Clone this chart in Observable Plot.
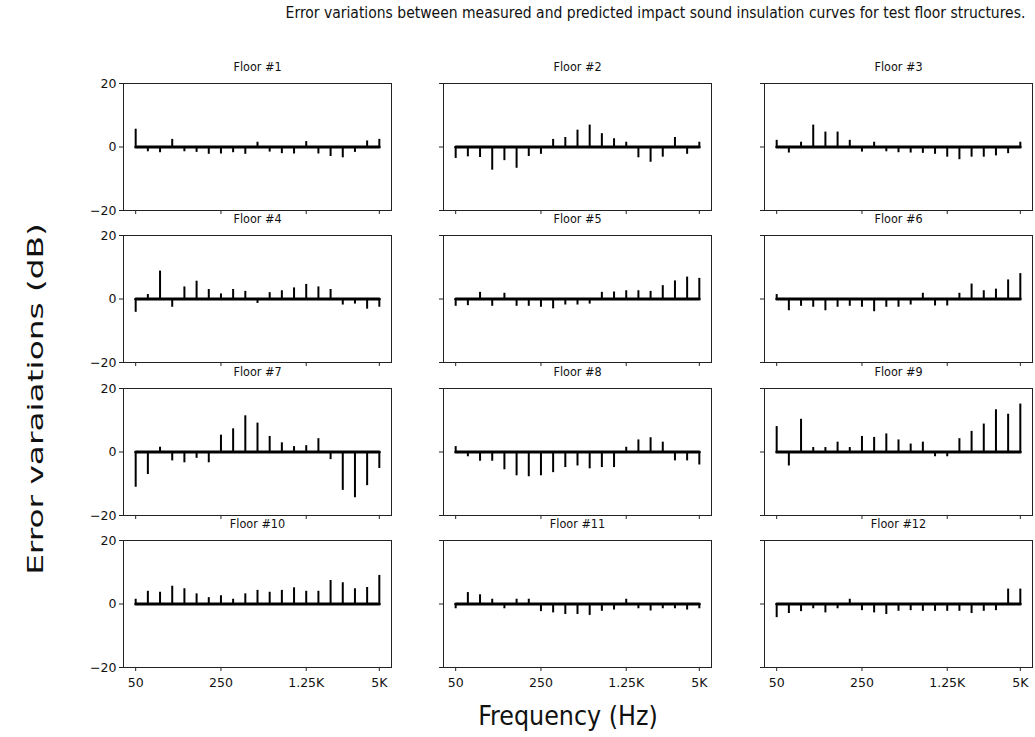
<!DOCTYPE html>
<html>
<head>
<meta charset="utf-8">
<script src="https://cdn.jsdelivr.net/npm/d3@7"></script>
<script src="https://cdn.jsdelivr.net/npm/@observablehq/plot@0.6"></script>
<style>
  body { margin: 0; background: white; }
  #fig { position: relative; width: 1035px; height: 737px; background: white; overflow: hidden; }
  .panel { position: absolute; }
  .cond { font-family: "DejaVu Sans Condensed", "Liberation Sans Narrow", "DejaVu Sans", sans-serif; font-stretch: condensed; }
  #title { position: absolute; left: 283px; top: 4px; width: 745px; text-align: center; font-size: 15.5px; color: #111; white-space: nowrap; }
  #xlabel { position: absolute; left: 418px; top: 700px; width: 300px; text-align: center; font-size: 26.5px; color: #111; white-space: nowrap; }
  #ylabel { position: absolute; left: 35px; top: 399px; font-family: "DejaVu Sans", sans-serif; font-size: 22px; color: #111; white-space: nowrap; transform: translate(-50%, -50%) rotate(-90deg) scaleX(1.49); }
</style>
</head>
<body>
<div id="fig">
  <div id="title" class="cond">Error variations between measured and predicted impact sound insulation curves for test floor structures.</div>
  <div id="xlabel" class="cond">Frequency (Hz)</div>
  <div id="ylabel">Error varaiations (dB)</div>
</div>
<script>
// 1/3-octave frequency bands
const bands = ["50","63","80","100","125","160","200","250","315","400","500","630","800","1K","1.25K","1.6K","2K","2.5K","3.15K","4K","5K"];
const tickBands = ["50","250","1.25K","5K"];
const yTicks = [-20, 0, 20];
const floorNames = ["Floor #1","Floor #2","Floor #3","Floor #4","Floor #5","Floor #6","Floor #7","Floor #8","Floor #9","Floor #10","Floor #11","Floor #12"];

// error (dB) per band
const floor1  = [5.6,-1.5,-1.8,2.4,-1.5,-1.7,-2.3,-2.2,-1.8,-2.3,1.5,-1.6,-2.1,-2.2,1.7,-2.2,-3.0,-3.4,-1.7,1.9,2.4];
const floor2  = [-3.6,-3.1,-3.3,-7.3,-4.3,-6.7,-3.0,-2.3,2.4,3.0,5.3,6.9,4.2,2.6,1.5,-3.4,-4.8,-3.2,3.0,-2.3,1.5];
const floor3  = [2.1,-1.9,1.5,6.9,4.7,4.7,2.1,-1.6,1.5,-1.5,-1.8,-1.9,-2.0,-2.3,-3.2,-4.0,-3.2,-3.2,-2.8,-2.1,1.5];
const floor4  = [-4.2,1.4,8.8,-2.6,3.8,5.6,3.0,1.6,3.0,2.4,-1.4,2.0,2.6,3.5,4.6,3.8,3.0,-1.9,-1.6,-3.2,-2.6];
const floor5  = [-2.3,-2.1,2.1,-2.3,1.8,-2.3,-2.3,-2.6,-3.1,-1.9,-1.9,-1.6,2.1,2.2,2.6,2.6,2.4,4.2,5.7,6.9,6.5];
const floor6  = [1.4,-3.7,-2.3,-2.6,-3.7,-2.6,-2.3,-2.6,-4.0,-2.6,-2.6,-1.9,1.8,-2.2,-2.2,1.8,4.7,2.6,3.1,6.0,8.0];
const floor7  = [-11.1,-7.1,1.5,-2.8,-3.4,-2.0,-3.4,5.3,7.3,11.4,9.1,4.9,2.9,1.7,2.0,4.2,-2.4,-12.1,-14.4,-10.6,-5.2];
const floor8  = [1.7,-1.5,-2.9,-2.9,-5.6,-7.5,-7.8,-7.5,-6.5,-4.9,-4.4,-5.3,-4.9,-4.9,1.5,3.8,4.5,3.1,-2.8,-2.8,-4.1];
const floor9  = [8.0,-4.4,10.3,1.4,1.4,3.1,1.4,4.9,4.6,5.7,3.8,2.5,3.1,-1.5,-1.5,4.2,6.5,8.8,13.3,11.9,15.1];
const floor10 = [1.5,4.0,3.7,5.6,4.8,3.2,2.0,2.6,1.5,3.2,4.3,3.7,4.3,5.1,4.0,4.0,7.4,6.7,4.8,5.2,9.0];
const floor11 = [-1.5,3.6,2.9,1.5,-1.5,1.5,1.5,-2.4,-2.8,-3.3,-3.3,-3.6,-2.3,-1.9,1.5,-1.5,-2.2,-1.5,-1.5,-1.9,-1.5];
const floor12 = [-4.3,-3.0,-2.4,-1.5,-2.8,-1.5,1.5,-2.1,-2.8,-3.3,-2.3,-2.1,-2.3,-2.3,-2.3,-2.3,-3.0,-2.3,-2.1,4.7,4.7];
const floors = [floor1,floor2,floor3,floor4,floor5,floor6,floor7,floor8,floor9,floor10,floor11,floor12];

// layout
const colLeft = [123, 443, 764];
const rowTop = [83, 235, 388, 540];
const frameW = 268, frameH = 127;
const mL = 40, mR = 10, mT = 26, mB = 30;
const condFont = '"DejaVu Sans Condensed", "Liberation Sans Narrow", "DejaVu Sans", sans-serif';
const tickFont = '"DejaVu Sans", sans-serif';

const fig = document.getElementById("fig");
const xTickIdx = tickBands.map(b => bands.indexOf(b));

floors.forEach((vals, k) => {
  const row = Math.floor(k / 3), col = k % 3;
  const data = vals.map((v, i) => ({i, band: bands[i], v}));
  const showY = col === 0, showX = row === 3;
  const p = Plot.plot({
    width: mL + frameW + mR,
    height: mT + frameH + mB,
    marginLeft: mL, marginRight: mR, marginTop: mT, marginBottom: mB,
    style: {background: "transparent", fontFamily: tickFont, fontSize: "12.5px", color: "#111", overflow: "visible"},
    x: {domain: [-1, bands.length], axis: null},
    y: {domain: [-20, 20], axis: null},
    marks: [
      Plot.axisY({ticks: yTicks, tickSize: 4, tickPadding: 3, stroke: "#222", fontSize: 12.5,
        tickFormat: showY ? undefined : () => "", label: null}),
      Plot.axisX({ticks: xTickIdx, tickSize: 4, tickPadding: 7, stroke: "#222", fontSize: 12.5,
        tickFormat: showX ? (d => bands[d]) : () => "", label: null}),
      Plot.frame({stroke: "#222", strokeWidth: 1}),
      Plot.lineY(data, {x: "i", y: () => 0, stroke: "black", strokeWidth: 3}),
      Plot.ruleX(data, {x: "i", y1: () => 0, y2: "v", stroke: "black", strokeWidth: 2}),
      Plot.text([floorNames[k]], {frameAnchor: "top", dy: -21, fontSize: 12.5, fontFamily: condFont, fill: "#111"})
    ]
  });
  p.classList.add("panel");
  p.style.left = (colLeft[col] - mL) + "px";
  p.style.top = (rowTop[row] - mT) + "px";
  p.style.position = "absolute";
  fig.appendChild(p);
});
</script>
</body>
</html>
